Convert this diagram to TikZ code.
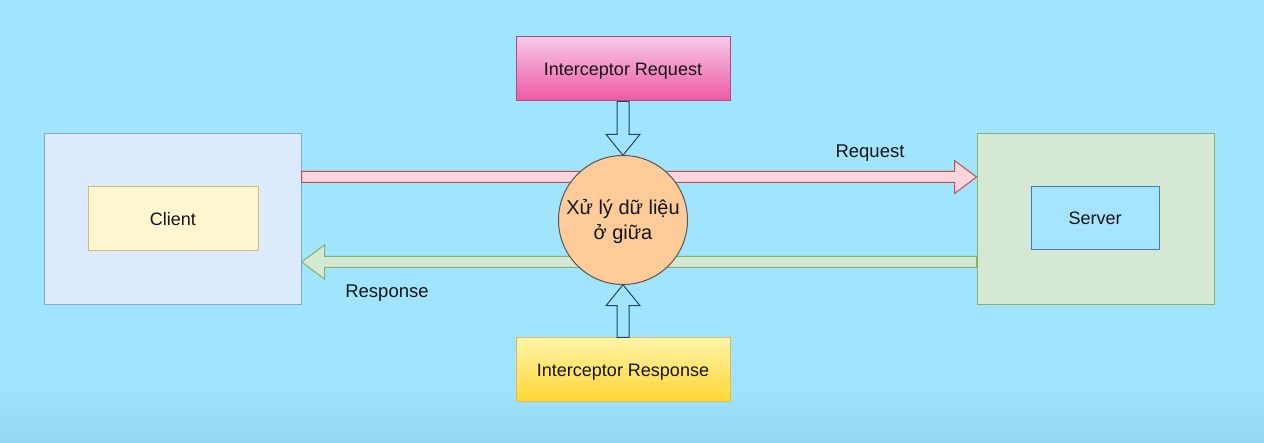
\documentclass[tikz,border=0pt]{standalone}
\usepackage{fontspec}
\setmainfont{Liberation Sans}
\usetikzlibrary{calc}
\definecolor{bgblue}{HTML}{A0E4FE}
\definecolor{bgblue2}{HTML}{94D7F0}
\definecolor{clfill}{HTML}{DCECFE}
\definecolor{cldraw}{HTML}{7EA6E0}
\definecolor{yfill}{HTML}{FFF7CF}
\definecolor{ydraw}{HTML}{DDB868}
\definecolor{gfill}{HTML}{D5E8D4}
\definecolor{gdraw}{HTML}{82B366}
\definecolor{sifill}{HTML}{A6E3FF}
\definecolor{sidraw}{HTML}{3A7FBF}
\definecolor{pinktop}{HTML}{F6C8E8}
\definecolor{pinkbot}{HTML}{EE58A2}
\definecolor{pinkdraw}{HTML}{A64D8C}
\definecolor{yeltop}{HTML}{FFF4A8}
\definecolor{yelbot}{HTML}{FFD633}
\definecolor{orfill}{HTML}{FFCC99}
\definecolor{ordraw}{HTML}{555555}
\definecolor{rqfill}{HTML}{FFD6DE}
\definecolor{rqdraw}{HTML}{B85450}
\definecolor{navy}{HTML}{23445D}
\definecolor{txt}{HTML}{151515}
\newcommand{\fatarrow}[6]{%
  \coordinate (fa-hb) at ($(#3)!#6!(#2)$);
  \draw[#1] ($(#2)!#4!90:(#3)$) -- ($(fa-hb)!#4!90:(#3)$) -- ($(fa-hb)!#5!90:(#3)$) -- (#3)
    -- ($(fa-hb)!#5!-90:(#3)$) -- ($(fa-hb)!#4!-90:(#3)$) -- ($(#2)!#4!-90:(#3)$) -- cycle;}
\begin{document}
\begin{tikzpicture}[x=1pt,y=-1pt,
  box/.style={draw, line width=1pt, rectangle, inner sep=0pt, text=txt,
    text height=13pt, text depth=0pt, font=\fontsize{18}{22}\selectfont},
  lbl/.style={text=txt, inner sep=0pt, text height=13pt, text depth=0pt,
    font=\fontsize{18.5}{22}\selectfont},
  arr/.style={line width=1pt, line join=miter}]
\fill[bgblue] (0,0) rectangle (1264,443);
\shade[top color=bgblue, bottom color=bgblue2] (0,380) rectangle (1264,443);
\useasboundingbox (0,0) rectangle (1264,443);
% client
\node[box, fill=clfill, draw=cldraw, minimum width=257pt, minimum height=171pt] (cl) at (172.5,219.5) {};
\node[box, fill=yfill, draw=ydraw, minimum width=170pt, minimum height=64pt] (cli) at (173,219) {Client};
% server
\node[box, fill=gfill, draw=gdraw, minimum width=237pt, minimum height=171pt] (sv) at (1095.5,219.5) {};
\node[box, fill=sifill, draw=sidraw, minimum width=128pt, minimum height=63pt] (svi) at (1095,218.5) {Server};
% interceptors
\node[box, top color=pinktop, bottom color=pinkbot, draw=pinkdraw, minimum width=214pt, minimum height=64pt] (ir) at (623,69) {Interceptor Request};
\node[box, top color=yeltop, bottom color=yelbot, draw=ydraw, minimum width=214pt, minimum height=64pt] (ip) at (623,370) {Interceptor Response};
% middle circle position
\path node[circle, minimum size=129pt, inner sep=0pt] (mid) at (623,220) {};
% arrows
\coordinate (rqA) at ($(cl.east)+(0,-42.5)$);
\coordinate (rqB) at (rqA -| sv.west);
\coordinate (rsA) at ($(sv.west)+(0,42.5)$);
\coordinate (rsB) at (rsA -| cl.east);
\fatarrow{arr, fill=rqfill, draw=rqdraw}{rqA}{rqB}{5.5pt}{16.5pt}{22pt}
\fatarrow{arr, fill=gfill, draw=gdraw}{rsA}{rsB}{5.5pt}{17pt}{23pt}
\fatarrow{arr, fill=bgblue, draw=navy}{ir.south}{mid.north}{6pt}{17pt}{21pt}
\fatarrow{arr, fill=bgblue, draw=navy}{ip.north}{mid.south}{6pt}{17pt}{21pt}
% circle
\node[circle, fill=orfill, draw=ordraw, line width=1pt, minimum size=129pt, inner sep=0pt] (midc) at (mid) {};
\node[align=center, text=txt, inner sep=0pt, font=\fontsize{20}{25}\selectfont] (midt) at ($(mid)+(0,2)$) {Xử lý dữ liệu\\ở giữa};
% labels
\node[lbl] (lrq) at (870,151) {Request};
\node[lbl] (lrs) at (387,291) {Response};
\end{tikzpicture}
\end{document}
